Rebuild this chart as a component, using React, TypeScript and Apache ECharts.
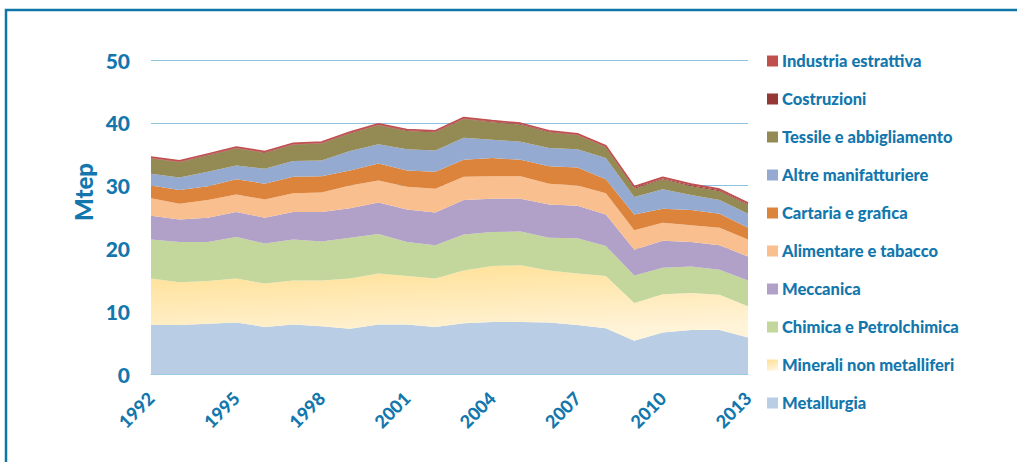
import { useEffect, useRef } from "react"
import * as echarts from "echarts"

const years = [
  "1992", "1993", "1994", "1995", "1996", "1997", "1998", "1999", "2000", "2001", "2002",
  "2003", "2004", "2005", "2006", "2007", "2008", "2009", "2010", "2011", "2012", "2013",
]

// valori per settore (Mtep), dal basso verso l'alto
const metallurgia = [7.8, 7.8, 8.0, 8.2, 7.5, 7.9, 7.6, 7.2, 7.9, 7.9, 7.5, 8.1, 8.3, 8.3, 8.2, 7.8, 7.3, 5.3, 6.6, 7.0, 7.0, 5.8]
const minerali = [7.4, 6.8, 6.8, 7.0, 6.9, 7.0, 7.3, 8.0, 8.1, 7.7, 7.7, 8.4, 8.9, 9.0, 8.3, 8.2, 8.3, 6.0, 6.1, 5.9, 5.6, 5.0]
const chimica = [6.2, 6.4, 6.2, 6.6, 6.4, 6.5, 6.2, 6.5, 6.3, 5.4, 5.3, 5.7, 5.4, 5.4, 5.2, 5.6, 4.8, 4.4, 4.2, 4.2, 4.0, 4.1]
const meccanica = [3.8, 3.6, 3.9, 4.0, 4.1, 4.4, 4.7, 4.7, 5.0, 5.2, 5.2, 5.5, 5.3, 5.2, 5.3, 5.2, 5.0, 4.1, 4.3, 3.9, 3.9, 3.8]
const alimentare = [2.8, 2.5, 2.8, 2.8, 2.9, 3.0, 3.1, 3.6, 3.5, 3.6, 3.8, 3.7, 3.6, 3.6, 3.3, 3.2, 3.4, 3.1, 2.9, 2.7, 2.8, 2.7]
const cartaria = [2.0, 2.2, 2.2, 2.4, 2.5, 2.6, 2.6, 2.4, 2.7, 2.6, 2.7, 2.7, 2.9, 2.6, 2.8, 2.9, 2.2, 2.5, 2.2, 2.4, 2.2, 1.9]
const altre = [1.9, 2.0, 2.3, 2.2, 2.4, 2.5, 2.5, 3.1, 3.1, 3.4, 3.4, 3.5, 2.9, 2.9, 2.9, 2.9, 3.4, 2.8, 3.1, 2.4, 2.2, 2.2]
const tessile = [2.4, 2.4, 2.6, 2.7, 2.5, 2.6, 2.7, 2.8, 3.0, 2.9, 2.9, 3.0, 2.8, 2.7, 2.5, 2.2, 1.7, 1.3, 1.6, 1.4, 1.4, 1.4]
const costruzioni = [0.1, 0.1, 0.1, 0.1, 0.1, 0.1, 0.1, 0.1, 0.1, 0.1, 0.1, 0.1, 0.1, 0.1, 0.1, 0.1, 0.1, 0.15, 0.15, 0.15, 0.15, 0.15]
const estrattiva = [0.15, 0.15, 0.15, 0.15, 0.15, 0.15, 0.15, 0.15, 0.15, 0.15, 0.15, 0.15, 0.15, 0.15, 0.15, 0.15, 0.15, 0.2, 0.2, 0.2, 0.2, 0.2]

const yTicks = [0, 10, 20, 30, 40, 50]

const blue = "#1377ad"
const font = "Lato, 'DejaVu Sans', sans-serif"

const mineraliFill = new echarts.graphic.LinearGradient(0, 0, 0.3, 1, [
  { offset: 0, color: "#ffdf91" },
  { offset: 1, color: "#fff3d8" },
])

const sectors = [
  { name: "Metallurgia", data: metallurgia, color: "#b9cde5" },
  { name: "Minerali non metalliferi", data: minerali, color: mineraliFill },
  { name: "Chimica e Petrolchimica", data: chimica, color: "#c3d69b" },
  { name: "Meccanica", data: meccanica, color: "#b1a0c7" },
  { name: "Alimentare e tabacco", data: alimentare, color: "#f9bf8f" },
  { name: "Cartaria e grafica", data: cartaria, color: "#dc843c" },
  { name: "Altre manifatturiere", data: altre, color: "#94aad0" },
  { name: "Tessile e abbigliamento", data: tessile, color: "#948a54" },
  { name: "Costruzioni", data: costruzioni, color: "#953735" },
  { name: "Industria estrattiva", data: estrattiva, color: "#c0504d" },
]

export default function App() {
  const chartRef = useRef<HTMLDivElement>(null)

  useEffect(() => {
    if (!chartRef.current) return
    const chart = echarts.init(chartRef.current, null, { renderer: "svg" })

    const option = {
      animation: false,
      backgroundColor: "#ffffff",
      grid: { left: 151, right: 269, top: 60, bottom: 88 },
      legend: {
        orient: "vertical",
        left: 762,
        top: 47,
        itemWidth: 11,
        itemHeight: 11,
        itemGap: 20,
        icon: "rect",
        data: sectors.map((s) => s.name).reverse(),
        textStyle: {
          color: blue,
          fontFamily: font,
          fontWeight: 900,
          fontSize: 16.5,
          lineHeight: 18,
          padding: [0, 0, 0, -1],
        },
      },
      xAxis: {
        type: "category",
        data: years,
        boundaryGap: false,
        axisLine: { show: true, lineStyle: { color: "#9ccae2", width: 1 } },
        axisTick: { show: false },
        axisLabel: {
          interval: 2,
          rotate: 45,
          margin: 21,
          color: blue,
          fontFamily: font,
          fontWeight: 900,
          fontSize: 18,
        },
      },
      yAxis: {
        type: "value",
        min: yTicks[0],
        max: yTicks[yTicks.length - 1],
        interval: 10,
        axisLine: { show: false },
        axisTick: { show: false },
        splitLine: { lineStyle: { color: "#8cc3de", width: 1 } },
        axisLabel: {
          margin: 21,
          color: blue,
          fontFamily: font,
          fontWeight: 900,
          fontSize: 21,
        },
      },
      graphic: [
        {
          type: "rect",
          shape: { x: 6, y: 10, width: 1100, height: 600 },
          style: { fill: "none", stroke: "#0f76a8", lineWidth: 2.5 },
          silent: true,
        },
        {
          type: "text",
          x: 83,
          y: 192,
          rotation: Math.PI / 2,
          style: {
            text: "Mtep",
            fill: blue,
            font: `900 24px ${font}`,
            align: "center",
            verticalAlign: "middle",
          },
        },
      ],
      series: sectors.map((s, i) => ({
        name: s.name,
        type: "line",
        stack: "totale",
        data: s.data,
        symbol: "none",
        itemStyle: { color: s.color },
        lineStyle:
          i === sectors.length - 1
            ? { width: 1.5, color: "#c0504d" }
            : { width: 0 },
        areaStyle: { color: s.color, opacity: 1 },
      })),
    }

    chart.setOption(option)

    return () => {
      chart.dispose()
    }
  }, [])

  return (
    <div
      ref={chartRef}
      style={{ position: "fixed", left: 0, top: 0, width: 1017, height: 462 }}
    />
  )
}
